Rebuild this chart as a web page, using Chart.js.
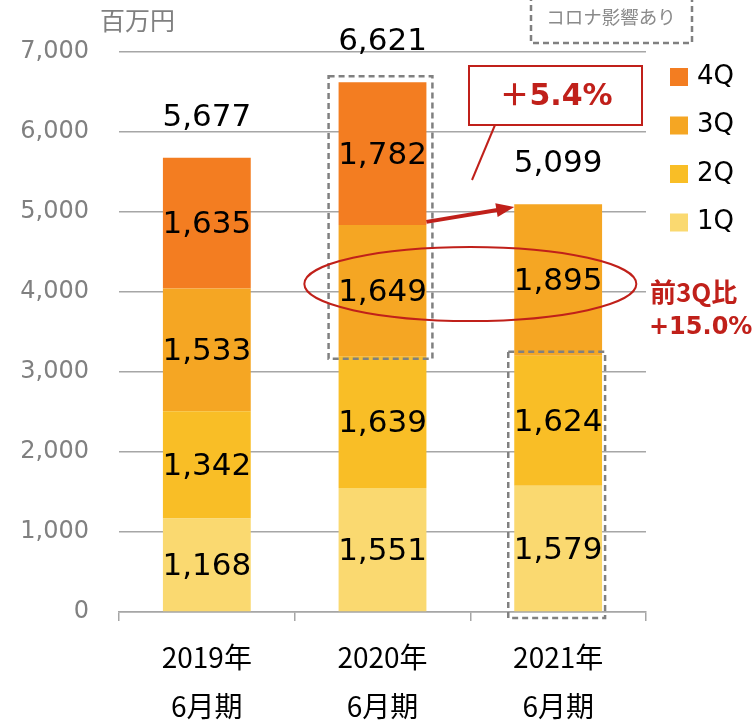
<!DOCTYPE html>
<html>
<head>
<meta charset="utf-8">
<script src="https://cdn.jsdelivr.net/npm/chart.js@4/dist/chart.umd.min.js"></script>
<style>
  html, body { margin: 0; padding: 0; background: #fff; }
  canvas { display: block; }
</style>
</head>
<body>
<canvas id="salesChart" width="755" height="722"></canvas>
<script>
// 売上高（百万円）四半期別
const years = [['2019年', '6月期'], ['2020年', '6月期'], ['2021年', '6月期']];
const q1 = [1168, 1551, 1579];
const q2 = [1342, 1639, 1624];
const q3 = [1533, 1649, 1895];
const q4 = [1635, 1782, null];
const totals = [5677, 6621, 5099];
const seriesNames = ['1Q', '2Q', '3Q', '4Q'];
const yTicks = [0, 1000, 2000, 3000, 4000, 5000, 6000, 7000];

const colors = ['#FAD970', '#F9BE26', '#F5A623', '#F37D21'];
const RED = '#C0201A';
const NUM_FONT = '"DejaVu Sans", "Noto Sans CJK JP", sans-serif';
const JP_FONT = '"Noto Sans CJK JP", "DejaVu Sans", sans-serif';

function dashedRect(ctx, x1, y1, x2, y2) {
    ctx.save();
    ctx.strokeStyle = '#808080';
    ctx.lineWidth = 2.5;
    ctx.setLineDash([6, 4]);
    ctx.strokeRect(x1, y1, x2 - x1, y2 - y1);
    ctx.restore();
}

// 数値ラベル
const labelPlugin = {
    id: 'barLabels',
    afterDatasetsDraw(chart) {
        const ctx = chart.ctx;
        ctx.save();
        ctx.fillStyle = '#000';
        ctx.font = '31px ' + NUM_FONT;
        ctx.textAlign = 'center';
        ctx.textBaseline = 'middle';
        chart.data.datasets.forEach((ds, i) => {
            chart.getDatasetMeta(i).data.forEach((bar, j) => {
                const v = ds.data[j];
                if (v == null) return;
                ctx.fillText(v.toLocaleString('en-US'), bar.x, (bar.y + bar.base) / 2 + 2);
            });
        });
        const y = chart.scales.y;
        const first = chart.getDatasetMeta(0).data;
        totals.forEach((t, j) => {
            ctx.fillText(t.toLocaleString('en-US'), first[j].x, y.getPixelForValue(t) - 40);
        });
        ctx.restore();
    }
};

// 注記・凡例
const notePlugin = {
    id: 'notes',
    afterDraw(chart) {
        const ctx = chart.ctx;
        const ys = chart.scales.y;
        const bars = chart.getDatasetMeta(0).data;
        const half = bars[0].width / 2;

        // 百万円
        ctx.save();
        ctx.fillStyle = '#808080';
        ctx.font = '25px ' + JP_FONT;
        ctx.textAlign = 'left';
        ctx.textBaseline = 'middle';
        ctx.fillText('百万円', 100, 20);
        ctx.restore();

        // コロナ影響あり
        dashedRect(ctx, 531, -3, 692, 43);
        ctx.save();
        ctx.fillStyle = '#8a8a8a';
        ctx.font = '18.5px ' + JP_FONT;
        ctx.textAlign = 'center';
        ctx.textBaseline = 'middle';
        ctx.fillText('コロナ影響あり', 611, 17);
        ctx.restore();

        // 点線枠
        const x20 = bars[1].x, x21 = bars[2].x;
        dashedRect(ctx, x20 - half - 10, ys.getPixelForValue(totals[1]) - 6,
                   x20 + half + 6, ys.getPixelForValue(q1[1] + q2[1]) + 2);
        dashedRect(ctx, x21 - half - 6, ys.getPixelForValue(q1[2] + q2[2]) - 4,
                   x21 + half + 3, ys.getPixelForValue(0) + 6);

        // 楕円
        ctx.save();
        ctx.strokeStyle = RED;
        ctx.lineWidth = 2;
        ctx.beginPath();
        ctx.ellipse((x20 + x21) / 2, ys.getPixelForValue(4100), 166, 37, 0, 0, Math.PI * 2);
        ctx.stroke();
        ctx.restore();

        // 矢印
        const ax1 = x20 + half, ay1 = ys.getPixelForValue(q1[1] + q2[1] + q3[1]) - 3;
        const ax2 = x21 - half, ay2 = ys.getPixelForValue(totals[2]) + 3;
        const ang = Math.atan2(ay2 - ay1, ax2 - ax1);
        ctx.save();
        ctx.strokeStyle = RED;
        ctx.fillStyle = RED;
        ctx.lineWidth = 4;
        ctx.beginPath();
        ctx.moveTo(ax1, ay1);
        ctx.lineTo(ax2 - 14 * Math.cos(ang), ay2 - 14 * Math.sin(ang));
        ctx.stroke();
        ctx.beginPath();
        ctx.moveTo(ax2, ay2);
        ctx.lineTo(ax2 - 18 * Math.cos(ang) + 7 * Math.sin(ang), ay2 - 18 * Math.sin(ang) - 7 * Math.cos(ang));
        ctx.lineTo(ax2 - 18 * Math.cos(ang) - 7 * Math.sin(ang), ay2 - 18 * Math.sin(ang) + 7 * Math.cos(ang));
        ctx.closePath();
        ctx.fill();
        ctx.restore();

        // +5.4% 吹き出し
        ctx.save();
        ctx.fillStyle = '#fff';
        ctx.fillRect(469, 66, 173, 59);
        ctx.strokeStyle = RED;
        ctx.lineWidth = 2;
        ctx.strokeRect(469, 66, 173, 59);
        ctx.beginPath();
        ctx.moveTo(495, 125);
        ctx.lineTo(472, 180);
        ctx.stroke();
        ctx.fillStyle = RED;
        ctx.font = 'bold 30px ' + NUM_FONT;
        ctx.textAlign = 'center';
        ctx.textBaseline = 'middle';
        ctx.fillText('＋5.4%', 556, 97);
        // 前3Q比
        ctx.font = 'bold 26px ' + JP_FONT;
        ctx.textAlign = 'left';
        ctx.fillText('前3Q比', 650, 292);
        ctx.font = 'bold 24px ' + NUM_FONT;
        ctx.fillText('+15.0%', 649, 328);
        ctx.restore();

        // 凡例
        ctx.save();
        ctx.font = '26px ' + NUM_FONT;
        ctx.textAlign = 'left';
        ctx.textBaseline = 'middle';
        chart.data.datasets.slice().reverse().forEach((ds, i) => {
            const cy = 77 + i * 48.5;
            ctx.fillStyle = ds.backgroundColor;
            ctx.fillRect(670, cy - 9, 18, 18);
            ctx.fillStyle = '#000';
            ctx.fillText(ds.label, 697, cy);
        });
        ctx.restore();
    }
};

const ctx = document.getElementById('salesChart').getContext('2d');
const salesChart = new Chart(ctx, {
    type: 'bar',
    data: {
        labels: years,
        datasets: [
            { label: seriesNames[0], data: q1, backgroundColor: colors[0] },
            { label: seriesNames[1], data: q2, backgroundColor: colors[1] },
            { label: seriesNames[2], data: q3, backgroundColor: colors[2] },
            { label: seriesNames[3], data: q4, backgroundColor: colors[3] }
        ]
    },
    options: {
        responsive: false,
        animation: false,
        devicePixelRatio: 1,
        layout: { padding: { left: 0, top: 52, right: 109, bottom: 0 } },
        plugins: { legend: { display: false }, tooltip: { enabled: false } },
        datasets: { bar: { categoryPercentage: 1, barPercentage: 0.5 } },
        scales: {
            x: {
                stacked: true,
                afterFit(s) { s.height = 110; },
                border: { display: true, color: '#a6a6a6', width: 1.5 },
                grid: { display: true, offset: true, drawOnChartArea: false, drawTicks: true, tickLength: 9, color: '#a6a6a6', lineWidth: 1.5 },
                ticks: { color: '#000', font: { family: JP_FONT, size: 28, lineHeight: 1.74 }, padding: 12 }
            },
            y: {
                stacked: true,
                min: 0,
                max: 7000,
                afterFit(s) { s.width = 119; },
                afterBuildTicks(s) { s.ticks = yTicks.map(v => ({ value: v })); },
                border: { display: false },
                grid: { color: '#a6a6a6', lineWidth: 1.5, drawTicks: false },
                ticks: {
                    color: '#808080',
                    padding: 30,
                    font: { family: NUM_FONT, size: 24 },
                    callback: v => v.toLocaleString('en-US')
                }
            }
        }
    },
    plugins: [labelPlugin, notePlugin]
});
</script>
</body>
</html>
